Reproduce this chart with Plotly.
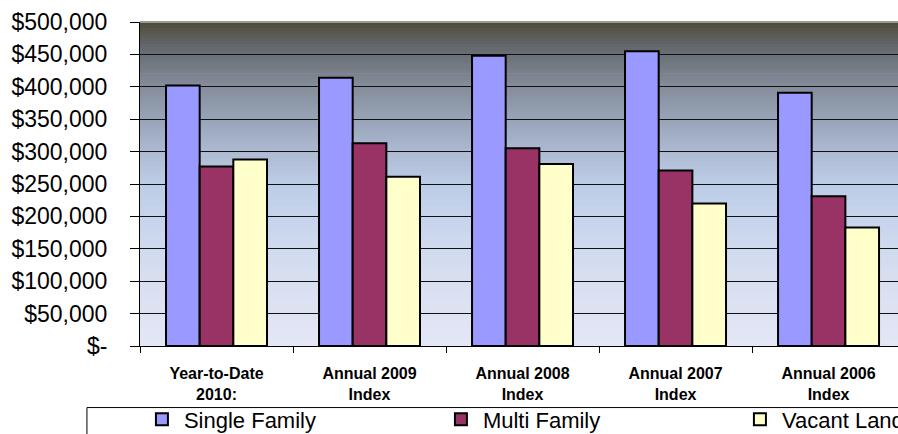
import plotly.graph_objects as go

categories = ["Year-to-Date<br>2010:", "Annual 2009<br>Index", "Annual 2008<br>Index",
              "Annual 2007<br>Index", "Annual 2006<br>Index"]
single_family = [402000, 414000, 448000, 455000, 391000]
multi_family = [277000, 313000, 305000, 271000, 231000]
vacant_land = [288000, 261000, 281000, 220000, 183000]
series_names = ["Single Family", "Multi Family", "Vacant Land"]
series_colors = ["#9999FF", "#993366", "#FFFFCC"]
y_tickvals = [0, 50000, 100000, 150000, 200000, 250000, 300000, 350000, 400000, 450000, 500000]
y_ticktext = ["$-", "$50,000", "$100,000", "$150,000", "$200,000", "$250,000",
              "$300,000", "$350,000", "$400,000", "$450,000", "$500,000"]

FONT = "Liberation Sans, Arial, sans-serif"

fig = go.Figure()
for name, vals, col in zip(series_names, [single_family, multi_family, vacant_land], series_colors):
    fig.add_trace(go.Bar(x=categories, y=vals, name=name,
                         marker=dict(color=col, line=dict(color="black", width=2))))

# background gradient (plot area), top -> bottom
stops = [(0.0, (0x4f, 0x4a, 0x36)), (0.06, (0x5f, 0x61, 0x63)), (0.10, (0x6a, 0x6f, 0x75)),
         (0.20, (0x85, 0x8d, 0x9b)), (0.30, (0x98, 0xa3, 0xb7)), (0.40, (0xac, 0xb9, 0xd1)),
         (0.50, (0xbc, 0xcd, 0xe6)), (0.60, (0xc6, 0xd3, 0xec)), (0.70, (0xd0, 0xda, 0xee)),
         (0.85, (0xdb, 0xe1, 0xf2)), (1.0, (0xe4, 0xe7, 0xf5))]

def color_at(t):
    for (t0, c0), (t1, c1) in zip(stops[:-1], stops[1:]):
        if t0 <= t <= t1:
            f = (t - t0) / (t1 - t0) if t1 > t0 else 0
            return "rgb(%d,%d,%d)" % tuple(round(a + (b - a) * f) for a, b in zip(c0, c1))
    return "rgb(%d,%d,%d)" % stops[-1][1]

shapes = []
n = 100
for i in range(n):
    t = (i + 0.5) / n
    shapes.append(dict(type="rect", xref="x domain", yref="y domain",
                       x0=0, x1=1, y0=1 - (i + 1) / n, y1=1 - i / n + 0.002,
                       fillcolor=color_at(t), line=dict(width=0), layer="below"))
# top border of plot area
shapes.append(dict(type="line", xref="x domain", yref="y domain", x0=0, x1=1, y0=1, y1=1,
                   line=dict(color="#9a9a9a", width=2), layer="above"))
# legend box
shapes.append(dict(type="rect", xref="paper", yref="paper", x0=-0.07, x1=1.1, y0=-0.5, y1=-0.19,
                   fillcolor="white", line=dict(color="black", width=1), layer="below"))

fig.update_layout(
    width=898, height=434,
    margin=dict(l=140, r=0, t=22, b=88, autoexpand=False),
    paper_bgcolor="white", plot_bgcolor="#e4e7f5",
    barmode="group", bargap=0.34, bargroupgap=0,
    font=dict(family=FONT, color="black"),
    shapes=shapes,
    showlegend=True,
    legend=dict(orientation="h", x=-0.0001, xanchor="left", y=-0.162, yanchor="top",
                font=dict(size=22, family=FONT, color="black"),
                itemwidth=34, entrywidth=250, bgcolor="rgba(0,0,0,0)", borderwidth=0,
                traceorder="normal"),
    xaxis=dict(range=[-0.5, 4.454], showgrid=False, showline=True, linecolor="black", linewidth=1,
               ticks="outside", tickson="boundaries", ticklen=6, tickcolor="black",
               tickfont=dict(size=16, family=FONT, color="black", weight="bold"),
               ticklabelstandoff=13),
    yaxis=dict(range=[0, 500000], tickvals=y_tickvals, ticktext=y_ticktext,
               showgrid=True, gridcolor="#111111", gridwidth=1, zeroline=False,
               showline=True, linecolor="black", linewidth=1,
               ticks="outside", ticklen=9, tickcolor="black",
               tickfont=dict(size=23, family=FONT, color="black"),
               ticklabelstandoff=18),
)

fig.write_html("out.html", config={"displayModeBar": False},
               post_script="document.body.style.margin='0';document.body.style.overflow='hidden';")
